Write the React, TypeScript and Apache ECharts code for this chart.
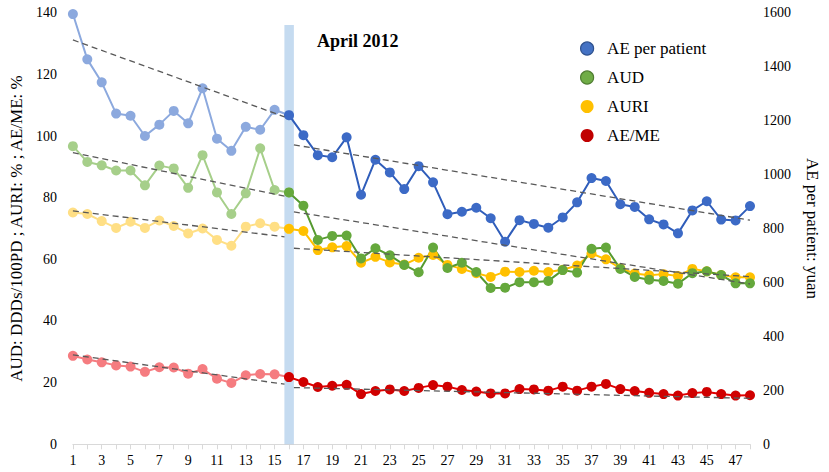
import React, { useEffect, useRef } from 'react';
import * as echarts from 'echarts';

const categories = ['1','2','3','4','5','6','7','8','9','10','11','12','13','14','15','16','17','18','19','20','21','22','23','24','25','26','27','28','29','30','31','32','33','34','35','36','37','38','39','40','41','42','43','44','45','46','47','48'];

const aePerPatient = [1595,1427,1342,1226,1218,1143,1185,1236,1190,1320,1133,1088,1177,1166,1240,1220,1146,1072,1064,1138,925,1055,1008,946,1031,971,853,862,877,838,751,831,817,803,841,897,987,976,890,880,834,815,782,867,901,833,830,883];
const aud = [96.7,91.6,90.5,88.8,88.8,84.0,90.4,89.5,83.2,93.8,81.7,74.7,81.4,96.0,82.5,81.7,77.4,66.3,67.6,67.7,60.3,63.6,61.3,58.2,55.8,63.8,57.2,58.9,55.9,50.7,50.8,52.6,52.6,53.0,56.5,55.7,63.4,63.8,56.9,54.3,53.4,53.0,52.1,55.5,56.1,54.9,52.2,52.2];
const auri = [75.2,74.7,72.4,70.2,72.2,70.2,72.6,70.8,68.4,70.0,66.3,64.4,70.6,71.7,70.6,69.9,69.2,63.0,63.9,64.3,58.9,60.8,59.0,58.3,60.5,61.4,58.2,56.9,55.5,54.3,56.0,55.9,56.3,55.9,56.6,58.0,61.9,60.0,57.1,55.4,54.8,55.2,54.6,56.9,56.1,54.9,54.2,54.2];
const aeMe = [28.7,27.5,26.6,25.6,25.2,23.5,25.0,24.9,22.9,24.4,21.3,19.9,22.4,22.8,22.7,21.8,20.2,18.6,19.0,19.3,16.3,17.3,17.8,17.3,18.3,19.2,18.7,17.6,17.1,16.5,16.5,17.9,17.8,17.4,18.7,17.4,18.7,19.6,17.9,17.3,16.7,16.3,15.8,16.6,17.0,16.3,15.8,15.9];

// trend segments [period index, value]
const aeTrendPre = [[1, 1499], [15.69, 1214]];
const aeTrendPost = [[16.34, 1110], [48, 831]];
const audTrendPre = [[1, 94.6], [15.69, 80.5]];
const audTrendPost = [[16.34, 75.4], [48, 52.0]];
const auriTrendPre = [[1, 75.7], [15.69, 67.3]];
const auriTrendPost = [[16.34, 63.6], [48, 54.4]];
const aeMeTrendPre = [[1, 29.0], [15.69, 19.5]];
const aeMeTrendPost = [[16.34, 18.4], [48, 14.9]];

const interventionIndex = 15; // April 2012 = period 16
const bandRange = [15.68, 16.34];
const bandTop = 136;

const seriesNames = ['AE per patient', 'AUD', 'AURI', 'AE/ME'];
const leftTicks = { min: 0, max: 140, interval: 20 };
const rightTicks = { min: 0, max: 1600, interval: 200 };

const serif = 'Liberation Serif, serif';

function metricSeries(name: string, values: number[], color: string, lineColor: string, preColor: string, yAxisIndex: number) {
  const common = {
    name,
    type: 'line',
    xAxisIndex: 0,
    yAxisIndex,
    symbol: 'circle',
    symbolSize: 10,
    showAllSymbol: true,
    silent: true,
  };
  return [
    {
      ...common,
      data: values.map((v, i) => (i <= interventionIndex ? v : null)),
      itemStyle: { color: preColor },
      lineStyle: { color: preColor, width: 2 },
      z: 2,
    },
    {
      ...common,
      data: values.map((v, i) => (i >= interventionIndex ? v : null)),
      itemStyle: { color },
      lineStyle: { color: lineColor, width: 2 },
      z: 3,
    },
  ];
}

function trendSeries(data: number[][], yAxisIndex: number, extra: any = {}) {
  return {
    type: 'line',
    xAxisIndex: 1,
    yAxisIndex,
    data,
    symbol: 'none',
    silent: true,
    lineStyle: { color: '#595959', width: 1.3, type: [6, 4] },
    z: 4,
    ...extra,
  };
}

export default function App() {
  const ref = useRef<HTMLDivElement>(null);
  useEffect(() => {
    document.body.style.margin = '0';
    const chart = echarts.init(ref.current!, null, { renderer: 'svg' });
    const labelStyle = { fontFamily: serif, fontSize: 14, color: '#000' };
    const option: any = {
      animation: false,
      backgroundColor: '#fff',
      textStyle: { fontFamily: serif },
      grid: { left: 70.7, right: 78.3, top: 12.7, bottom: 27.7, containLabel: false },
      legend: {
        orient: 'vertical',
        left: 575,
        top: 35,
        icon: 'circle',
        itemWidth: 30,
        itemHeight: 13,
        itemGap: 12,
        selectedMode: false,
        textStyle: { fontFamily: serif, fontSize: 17, color: '#000' },
        data: [
          { name: seriesNames[0], itemStyle: { color: '#4472C4', borderColor: '#2F528F', borderWidth: 1.2 } },
          { name: seriesNames[1], itemStyle: { color: '#70AD47', borderColor: '#507E32', borderWidth: 1.2 } },
          { name: seriesNames[2], itemStyle: { color: '#FFC000', borderWidth: 0 } },
          { name: seriesNames[3], itemStyle: { color: '#C00000', borderWidth: 0 } },
        ],
      },
      xAxis: [
        {
          type: 'category',
          data: categories,
          boundaryGap: false,
          axisLine: { lineStyle: { color: '#D9D9D9', width: 1.2 } },
          axisTick: { show: true, interval: 0, length: 5, lineStyle: { color: '#D9D9D9' } },
          axisLabel: { ...labelStyle, interval: 1, margin: 9 },
          splitLine: { show: false },
        },
        { type: 'value', min: 1, max: 48, show: false },
      ],
      yAxis: [
        {
          type: 'value',
          ...leftTicks,
          name: 'AUD: DDDs/100PD ; AURI: % ; AE/ME: %',
          nameLocation: 'middle',
          nameRotate: 90,
          nameGap: 44,
          nameTextStyle: { fontFamily: serif, fontSize: 17, color: '#000' },
          axisLine: { show: false },
          axisTick: { show: false },
          splitLine: { show: false },
          axisLabel: { ...labelStyle, margin: 16 },
        },
        {
          type: 'value',
          ...rightTicks,
          position: 'right',
          name: 'AE per patient: yuan',
          nameLocation: 'middle',
          nameRotate: -90,
          nameGap: 54,
          nameTextStyle: { fontFamily: serif, fontSize: 17, color: '#000' },
          axisLine: { show: false },
          axisTick: { show: false },
          splitLine: { show: false },
          axisLabel: { ...labelStyle, margin: 13, formatter: (v: number) => String(v) },
        },
      ],
      graphic: [
        {
          type: 'text',
          left: 317,
          top: 32,
          style: { text: 'April 2012', fontFamily: serif, fontWeight: 'bold', fontSize: 18, fill: '#000' },
        },
      ],
      series: [
        ...metricSeries(seriesNames[3], aeMe, '#D00000', '#E00000', '#F57C80', 0),
        ...metricSeries(seriesNames[2], auri, '#FFC000', '#FFC000', '#FFDF85', 0),
        ...metricSeries(seriesNames[1], aud, '#65A83C', '#559A30', '#A6CF8A', 0),
        ...metricSeries(seriesNames[0], aePerPatient, '#3C6AC6', '#2F5DBA', '#8CA9DE', 1),
        trendSeries(aeTrendPre, 1),
        trendSeries(aeTrendPost, 1),
        trendSeries(audTrendPre, 0),
        trendSeries(audTrendPost, 0),
        trendSeries(auriTrendPre, 0),
        trendSeries(auriTrendPost, 0),
        trendSeries(aeMeTrendPre, 0),
        trendSeries(aeMeTrendPost, 0, {
          z: 10,
          markArea: {
            silent: true,
            itemStyle: { color: 'rgba(110,165,217,0.4)' },
            data: [[{ xAxis: bandRange[0], yAxis: 0 }, { xAxis: bandRange[1], yAxis: bandTop }]],
          },
        }),
      ],
    };
    chart.setOption(option);
    return () => chart.dispose();
  }, []);
  return <div ref={ref} style={{ width: 829, height: 472 }} />;
}
